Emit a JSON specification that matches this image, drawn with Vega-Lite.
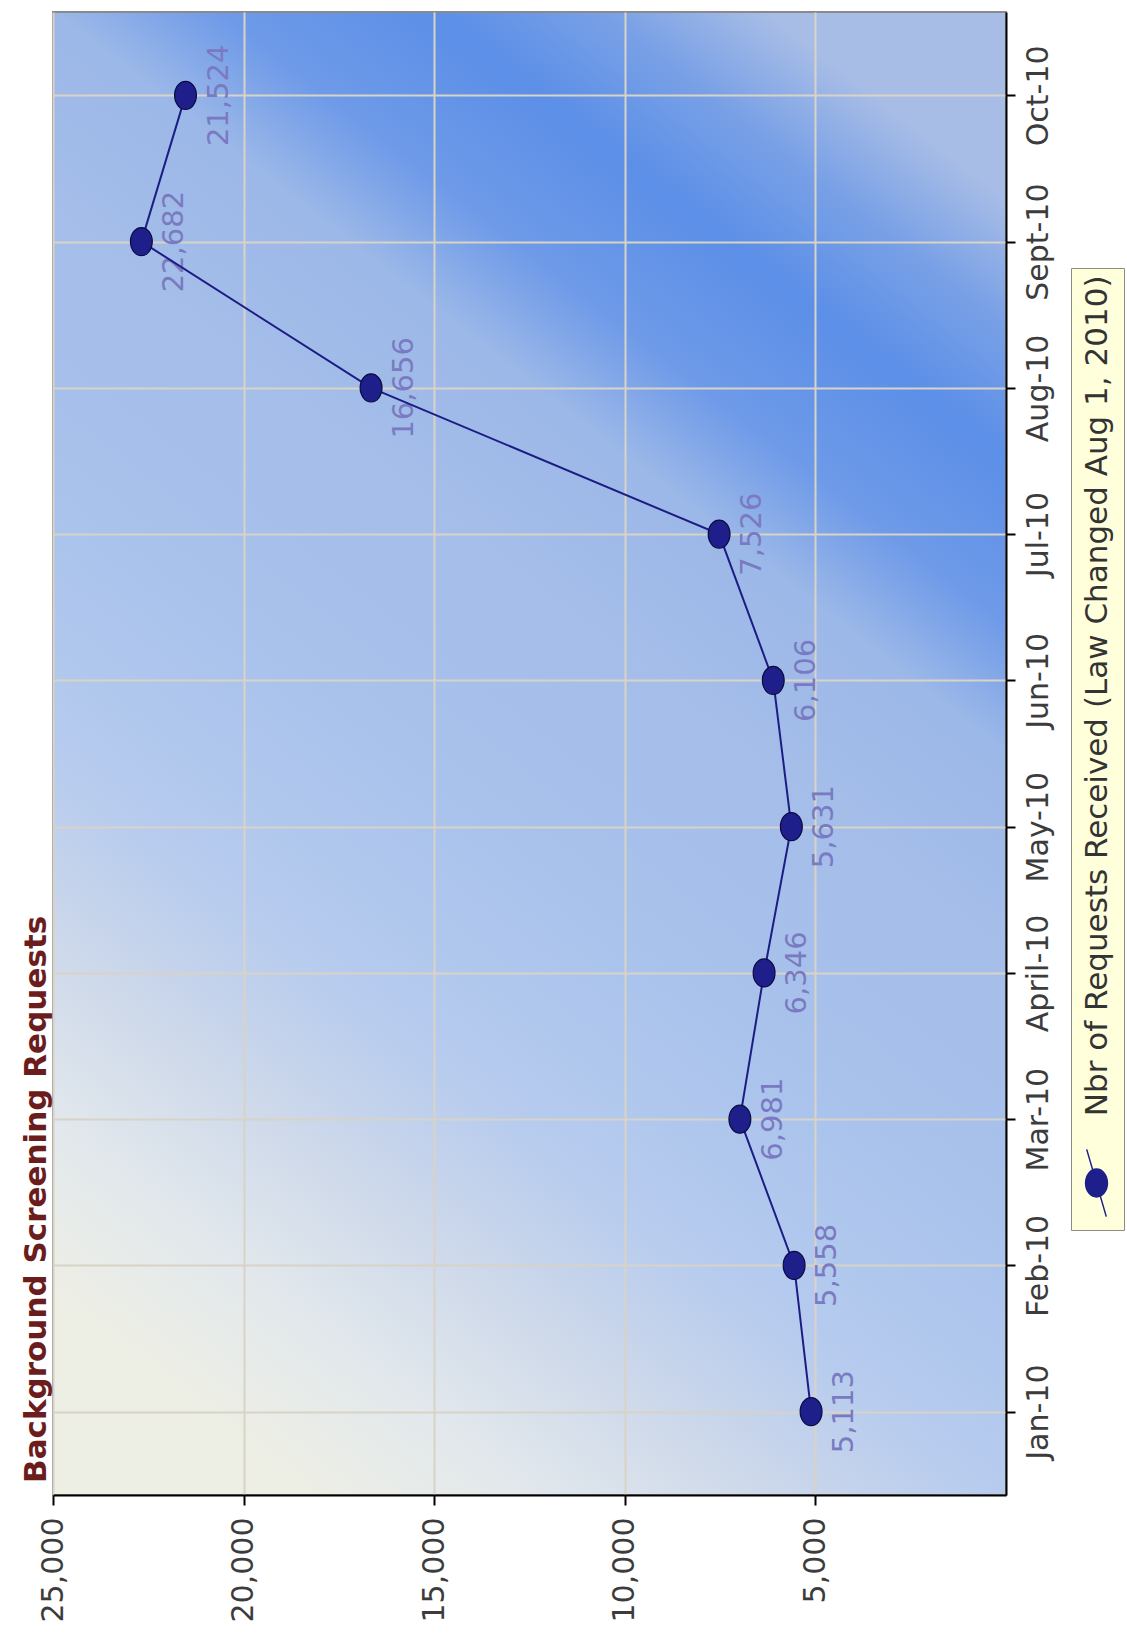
{
  "$schema": "https://vega.github.io/schema/vega-lite/v6.json",
  "width": 953,
  "height": 1483,
  "autosize": {"type": "none"},
  "padding": {"left": 53, "top": 12, "right": 121, "bottom": 153},
  "background": "white",
  "title": {
    "text": "Background Screening Requests",
    "orient": "left",
    "anchor": "start",
    "font": "DejaVu Sans",
    "fontSize": 31,
    "fontWeight": "bold",
    "color": "#6b1d1d",
    "offset": 1,
    "dx": 139,
    "dy": 16
  },
  "config": {
    "view": {
      "fill": {
        "gradient": "linear",
        "x1": 0.25, "y1": 1, "x2": 0.75, "y2": 0,
        "stops": [
          {"offset": 0, "color": "#eeefe4"},
          {"offset": 0.1, "color": "#e2e8ec"},
          {"offset": 0.2, "color": "#cdd8ea"},
          {"offset": 0.3, "color": "#b6cbee"},
          {"offset": 0.45, "color": "#a8c2ec"},
          {"offset": 0.6, "color": "#a4bde9"},
          {"offset": 0.7, "color": "#9cb8e8"},
          {"offset": 0.77, "color": "#6e9ae8"},
          {"offset": 0.86, "color": "#5c8fe8"},
          {"offset": 0.93, "color": "#78a0e6"},
          {"offset": 1, "color": "#a8bde6"}
        ]
      },
      "stroke": "#8a8a8a",
      "strokeWidth": 2
    }
  },
  "data": {
    "values": [
      {"month": "Jan-10", "value": 5113, "series": "Nbr of Requests Received (Law Changed Aug 1, 2010)"},
      {"month": "Feb-10", "value": 5558, "series": "Nbr of Requests Received (Law Changed Aug 1, 2010)"},
      {"month": "Mar-10", "value": 6981, "series": "Nbr of Requests Received (Law Changed Aug 1, 2010)"},
      {"month": "April-10", "value": 6346, "series": "Nbr of Requests Received (Law Changed Aug 1, 2010)"},
      {"month": "May-10", "value": 5631, "series": "Nbr of Requests Received (Law Changed Aug 1, 2010)"},
      {"month": "Jun-10", "value": 6106, "series": "Nbr of Requests Received (Law Changed Aug 1, 2010)"},
      {"month": "Jul-10", "value": 7526, "series": "Nbr of Requests Received (Law Changed Aug 1, 2010)"},
      {"month": "Aug-10", "value": 16656, "series": "Nbr of Requests Received (Law Changed Aug 1, 2010)"},
      {"month": "Sept-10", "value": 22682, "series": "Nbr of Requests Received (Law Changed Aug 1, 2010)"},
      {"month": "Oct-10", "value": 21524, "series": "Nbr of Requests Received (Law Changed Aug 1, 2010)"}
    ]
  },
  "encoding": {
    "x": {
      "field": "value",
      "type": "quantitative",
      "scale": {"domain": [0, 25000], "reverse": true, "nice": false},
      "axis": {
        "orient": "bottom",
        "title": null,
        "values": [5000, 10000, 15000, 20000, 25000],
        "format": ",d",
        "labelAngle": 270,
        "labelAlign": "right",
        "labelBaseline": "middle",
        "labelFont": "DejaVu Sans",
        "labelFontSize": 30,
        "labelColor": "#3c3c3c",
        "labelPadding": 12,
        "labelOverlap": false,
        "labelBound": false,
        "labelFlush": false,
        "tickSize": 10,
        "tickWidth": 2,
        "tickColor": "#000000",
        "domainColor": "#000000",
        "domainWidth": 2,
        "grid": true,
        "gridColor": "#d8d3c6",
        "gridWidth": 2
      }
    },
    "y": {
      "field": "month",
      "type": "ordinal",
      "sort": ["Oct-10", "Sept-10", "Aug-10", "Jul-10", "Jun-10", "May-10", "April-10", "Mar-10", "Feb-10", "Jan-10"],
      "scale": {"type": "point", "padding": 0.57},
      "axis": {
        "orient": "right",
        "title": null,
        "labelAngle": 270,
        "labelAlign": "center",
        "labelBaseline": "top",
        "labelFont": "DejaVu Sans",
        "labelFontSize": 30,
        "labelColor": "#3c3c3c",
        "labelPadding": 8,
        "labelOverlap": false,
        "labelBound": false,
        "tickSize": 9,
        "tickWidth": 2,
        "tickColor": "#000000",
        "domainColor": "#000000",
        "domainWidth": 2,
        "grid": true,
        "gridColor": "#d8d3c6",
        "gridWidth": 2
      }
    }
  },
  "layer": [
    {
      "mark": {
        "type": "text",
        "angle": 270,
        "align": "center",
        "baseline": "middle",
        "dy": 33,
        "font": "DejaVu Sans",
        "fontSize": 29,
        "color": "#7a7ac2"
      },
      "encoding": {
        "text": {"field": "value", "type": "quantitative", "format": ","}
      }
    },
    {
      "mark": {"type": "line", "color": "#1c1c84", "strokeWidth": 2},
      "encoding": {"order": {"value": null}}
    },
    {
      "mark": {
        "type": "point",
        "filled": true,
        "opacity": 1,
        "size": 784,
        "shape": "M-0.78,0A0.78,1,0,1,0,0.78,0A0.78,1,0,1,0,-0.78,0Z",
        "stroke": "#0a0a40",
        "strokeWidth": 1.2
      },
      "encoding": {
        "color": {
          "field": "series",
          "type": "nominal",
          "scale": {"range": ["#1f1f8c"]},
          "legend": {
            "orient": "none",
            "legendX": 1018,
            "legendY": 256,
            "title": null,
            "fillColor": "#ffffdc",
            "strokeColor": "#8c8c80",
            "padding": 10,
            "labelFont": "DejaVu Sans",
            "labelFontSize": 31,
            "labelColor": "#333333",
            "labelLimit": 0,
            "labelOffset": 0,
            "symbolType": "M-0.78,0A0.78,1,0,1,0,0.78,0A0.78,1,0,1,0,-0.78,0Z M-0.7,-2.4L0.7,2.4",
            "symbolSize": 784,
            "symbolFillColor": "#1f1f8c",
            "symbolStrokeColor": "#1f1f8c",
            "symbolStrokeWidth": 1.5,
            "symbolOpacity": 1,
            "encode": {
              "labels": {
                "update": {
                  "angle": {"value": 270},
                  "align": {"value": "right"},
                  "dx": {"value": 18},
                  "dy": {"value": -14}
                }
              },
              "symbols": {
                "update": {
                  "y": {"value": 905}
                }
              }
            }
          }
        }
      }
    }
  ]
}
